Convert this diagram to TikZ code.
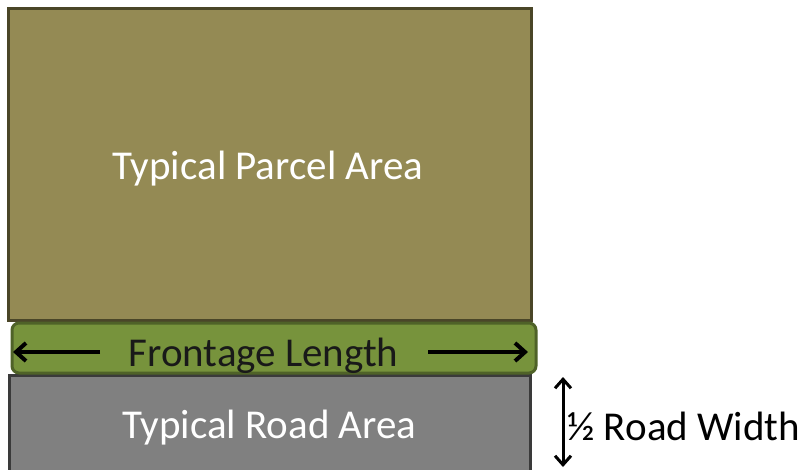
\documentclass[tikz,border=0pt]{standalone}
\usepackage{fontspec}
\setmainfont{Carlito}
\usetikzlibrary{positioning,arrows.meta}

\definecolor{parcelfill}{HTML}{948A54}
\definecolor{parceldraw}{HTML}{4A4628}
\definecolor{frontfill}{HTML}{77933C}
\definecolor{frontdraw}{HTML}{4F6228}
\definecolor{roadfill}{HTML}{808080}
\definecolor{roaddraw}{HTML}{3A3A3A}

\tikzset{
  area/.style={rectangle,line width=3pt,inner sep=0pt},
  label/.style={font=\fontsize{41}{44}\selectfont,inner sep=0pt},
  dim/.style={line width=4pt,-{Straight Barb[length=10pt,width=18pt,line width=4pt]}},
}

\begin{document}
\begin{tikzpicture}[x=1pt,y=-1pt]
  \useasboundingbox (0,0) rectangle (801,469);
  \node[area,fill=roadfill,draw=roaddraw,minimum width=521,minimum height=104]
    (road) at (269.5,427) {};
  \node[label,text=white] (roadtxt) at (269.5,428) {Typical Road Area};
  \node[area,fill=parcelfill,draw=parceldraw,minimum width=523,minimum height=312]
    (parcel) at (269.5,164) {};
  \node[label,text=white] (parceltxt) at (268,169) {Typical Parcel Area};
  \node[area,fill=frontfill,draw=frontdraw,rounded corners=7pt,
    minimum width=524,minimum height=50] (front) at (274,348) {};
  \node[label,text=black!90] (fronttxt) at (263.5,356) {Frontage Length};
  % frontage arrows
  \coordinate (fla) at (100,352);
  \coordinate (fl) at (13,352);
  \coordinate (fra) at (428,352);
  \coordinate (fr) at (528,352);
  \draw[dim] (fla) -- (fl);
  \draw[dim] (fra) -- (fr);
  % half road width
  \coordinate (rwtop) at (563,377);
  \coordinate (rwbot) at (563,467);
  \draw[line width=3pt,{Straight Barb[length=9pt,width=16pt,line width=3pt]}-{Straight Barb[length=9pt,width=16pt,line width=3pt]}] (rwtop) -- (rwbot);
  \node[label,anchor=west] (rwtxt) at (567,426) {½ Road Width};
\end{tikzpicture}
\end{document}
